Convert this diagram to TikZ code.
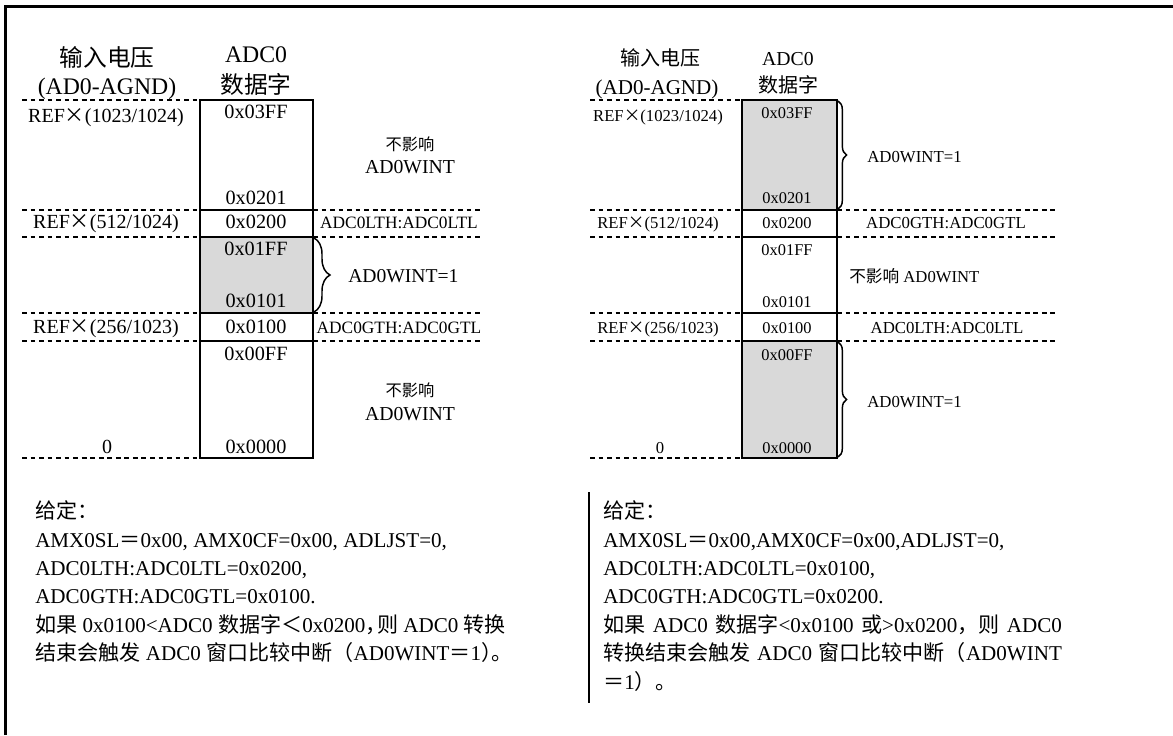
\documentclass[tikz,border=0pt]{standalone}
\usepackage{fontspec}
\setmainfont{Liberation Serif}
\newfontfamily\cjk{Noto Sans CJK SC}
\usetikzlibrary{decorations.pathreplacing}
\newcommand{\zh}[1]{{\cjk #1}}
\newcommand{\tms}{\makebox[1em]{\zh{×}}}
\definecolor{shadegray}{HTML}{D9D9D9}
\begin{document}
\begin{tikzpicture}[x=0.75pt,y=-0.75pt,
  every node/.style={inner sep=0pt},
  fs/.style={font=\fontsize{#1}{#1}\selectfont},
  zs/.style={font=\cjk\fontsize{#1}{#1}\selectfont},
  cell/.style={draw=black, line width=1.5pt},
  dl/.style={line width=1.3pt, dash pattern=on 3.6pt off 2.8pt},
  brc/.style={decorate, decoration={brace, amplitude=#1}, line width=1.1pt},
  bd/.style={font=\fontsize{15.8}{21}\selectfont, anchor=base west}
]
\useasboundingbox (0,0) rectangle (1173,735);
% frame
\draw[line width=2.25pt] (5.5,735) -- (5.5,6.5) -- (1173,6.5);

%================ LEFT PANEL =================
\fill[shadegray] (200,237) rectangle (313,313);
\foreach \y in {100,210,237,313,341,458} \draw[dl] (22,\y) -- (200,\y);
\foreach \y in {210,237,313,341} \draw[dl] (313,\y) -- (481,\y);
\draw[cell] (200,100) rectangle (313,458);
\foreach \y in {210,237,313,341} \draw[cell] (200,\y) -- (313,\y);
\coordinate (lbA) at (314,238);
\coordinate (lbB) at (314,312);
\draw[brc=12pt] (lbA) -- (lbB);

\node[zs=17.8] (lh1) at (107,57) {输入电压};
\node[fs=17.8, anchor=base] (lh2) at (107,94) {(AD0-AGND)};
\node[fs=17.8, anchor=base] (lh3) at (256,63) {ADC0};
\node[zs=17.8] (lh4) at (256,84) {数据字};

\node[fs=15, anchor=base] (lr1) at (106,122) {REF\tms(1023/1024)};
\node[fs=15, anchor=base] (lr2) at (106,228) {REF\tms(512/1024)};
\node[fs=15, anchor=base] (lr3) at (106,333) {REF\tms(256/1023)};
\node[fs=15, anchor=base] (lr4) at (107,453) {0};

\node[fs=15.2, anchor=base] (lv1) at (256,118) {0x03FF};
\node[fs=15.2, anchor=base] (lv2) at (256,204) {0x0201};
\node[fs=15.2, anchor=base] (lv3) at (256,228) {0x0200};
\node[fs=15.2, anchor=base] (lv4) at (256,255) {0x01FF};
\node[fs=15.2, anchor=base] (lv5) at (256,307) {0x0101};
\node[fs=15.2, anchor=base] (lv6) at (256,333) {0x0100};
\node[fs=15.2, anchor=base] (lv7) at (256,360) {0x00FF};
\node[fs=15.2, anchor=base] (lv8) at (256,453) {0x0000};

\node[zs=12.2] (ln1) at (410,144) {不影响};
\node[fs=14.8, anchor=base] (ln2) at (410,173) {AD0WINT};
\node[fs=13, anchor=base] (lt1) at (399,228) {ADC0LTH:ADC0LTL};
\node[fs=14.7, anchor=base west] (lw1) at (348,282) {AD0WINT=1};
\node[fs=13, anchor=base] (lt2) at (399,333) {ADC0GTH:ADC0GTL};
\node[zs=12.2] (ln3) at (410,390) {不影响};
\node[fs=14.8, anchor=base] (ln4) at (410,420) {AD0WINT};

%================ RIGHT PANEL =================
\fill[shadegray] (742,100) rectangle (837,210);
\fill[shadegray] (742,341) rectangle (837,458);
\foreach \y in {100,210,237,313,341,458} \draw[dl] (590,\y) -- (742,\y);
\foreach \y in {210,237,313,341} \draw[dl] (837,\y) -- (1058,\y);
\draw[cell] (742,100) rectangle (837,458);
\foreach \y in {210,237,313,341} \draw[cell] (742,\y) -- (837,\y);
\coordinate (rbA) at (838,101);
\coordinate (rbB) at (838,209);
\coordinate (rbC) at (838,342);
\coordinate (rbD) at (838,457);
\draw[brc=6.5pt] (rbA) -- (rbB);
\draw[brc=6.5pt] (rbC) -- (rbD);

\node[zs=15] (rh1) at (660,58) {输入电压};
\node[fs=15.8, anchor=base] (rh2) at (657,94) {(AD0-AGND)};
\node[fs=14.8, anchor=base] (rh3) at (788,65) {ADC0};
\node[zs=15] (rh4) at (788,85) {数据字};

\node[fs=12.5, anchor=base] (rr1) at (658,121) {REF\tms(1023/1024)};
\node[fs=12.5, anchor=base] (rr2) at (658,228) {REF\tms(512/1024)};
\node[fs=12.5, anchor=base] (rr3) at (658,333) {REF\tms(256/1023)};
\node[fs=12.5, anchor=base] (rr4) at (660,453) {0};

\node[fs=12.3, anchor=base] (rv1) at (787,118) {0x03FF};
\node[fs=12.3, anchor=base] (rv2) at (787,203) {0x0201};
\node[fs=12.3, anchor=base] (rv3) at (787,228) {0x0200};
\node[fs=12.3, anchor=base] (rv4) at (787,255) {0x01FF};
\node[fs=12.3, anchor=base] (rv5) at (787,307) {0x0101};
\node[fs=12.3, anchor=base] (rv6) at (787,333) {0x0100};
\node[fs=12.3, anchor=base] (rv7) at (787,360) {0x00FF};
\node[fs=12.3, anchor=base] (rv8) at (787,453) {0x0000};

\node[fs=12.6, anchor=base west] (rw1) at (867,162) {AD0WINT=1};
\node[fs=12.6, anchor=base] (rt1) at (946,228) {ADC0GTH:ADC0GTL};
\node[fs=12.5, anchor=base west] (rn1) at (849,282) {\zh{不影响} AD0WINT};
\node[fs=12.6, anchor=base] (rt2) at (947,333) {ADC0LTH:ADC0LTL};
\node[fs=12.6, anchor=base west] (rw2) at (867,407) {AD0WINT=1};

%================ TEXT BLOCKS =================
\node[bd] (tl1) at (35,518) {\zh{给定：}};
\node[bd] (tl2) at (35,547) {AMX0SL\zh{＝}0x00, AMX0CF=0x00, ADLJST=0,};
\node[bd] (tl3) at (35,575) {ADC0LTH:ADC0LTL=0x0200,};
\node[bd] (tl4) at (35,603) {ADC0GTH:ADC0GTL=0x0100.};
\node[bd] (tl5) at (35,632) {\zh{如果} 0x0100<ADC0 \zh{数据字＜}0x0200\zh{，}\kern-0.45em\zh{则} ADC0 \zh{转换}};
\node[bd] (tl6) at (35,660) {\zh{结束会触发} ADC0 \zh{窗口比较中断（}AD0WINT\zh{＝}1\zh{）}\kern-0.5em\zh{。}};

\draw[line width=1.5pt] (589,492) -- (589,703);

\node[bd] (tr1) at (603,518) {\zh{给定：}};
\node[bd] (tr2) at (603,547) {AMX0SL\zh{＝}0x00,AMX0CF=0x00,ADLJST=0,};
\node[bd] (tr3) at (603,575) {ADC0LTH:ADC0LTL=0x0100,};
\node[bd] (tr4) at (603,603) {ADC0GTH:ADC0GTL=0x0200.};
\node[bd] (tr5) at (603,632) {\makebox[344pt][s]{\zh{如果} ADC0 \zh{数据字}<0x0100 \zh{或}>0x0200\zh{，则} ADC0}};
\node[bd] (tr6) at (603,660) {\makebox[344pt][s]{\zh{转换结束会触发} ADC0 \zh{窗口比较中断（}AD0WINT}};
\node[bd] (tr7) at (603,689) {\zh{＝}1\zh{）。}};
\end{tikzpicture}
\end{document}
